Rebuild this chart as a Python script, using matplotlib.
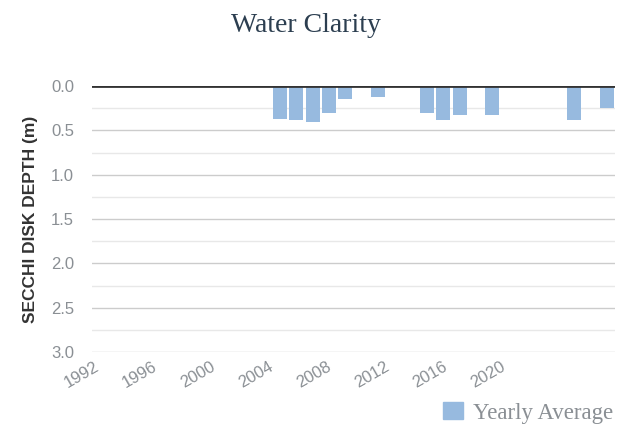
import matplotlib
matplotlib.use("Agg")
import matplotlib.pyplot as plt
import numpy as np

# === Data ===
years = list(range(1992, 2024))
measured_years = [2003, 2004, 2005, 2006, 2007, 2009, 2012, 2013, 2014, 2016, 2021, 2023]
secchi_depth = [0.37, 0.38, 0.405, 0.30, 0.145, 0.125, 0.30, 0.38, 0.33, 0.33, 0.38, 0.25]
tick_labels = ["1992", "1996", "2000", "2004", "2008", "2012", "2016", "2020"]

bar_color = "#97badf"
text_gray = "#8a8f94"

fig = plt.figure(figsize=(6.23, 4.24), dpi=100)
ax = fig.add_axes([92 / 623, 1 - 352 / 424, 523 / 623, 266 / 424])

# bars hang down from 0 (depth axis inverted)
x_idx = [years.index(y) for y in measured_years]
ax.bar(x_idx, secchi_depth, width=0.86, color=bar_color, zorder=2)

ax.set_xlim(-0.5, len(years) - 0.5)
ax.set_ylim(3.0, 0.0)

# grid: labelled lines every 0.5, lighter ones in between
for v in np.arange(0.25, 3.0, 0.5):
    ax.axhline(v, color="#e8e8e8", lw=1, zorder=1)
for v in np.arange(0.5, 3.01, 0.5):
    ax.axhline(v, color="#cccccc", lw=1, zorder=1)
ax.axhline(0, color="#333333", lw=2, zorder=3)

ax.set_yticks(np.arange(0, 3.01, 0.5))
ax.set_yticklabels([f"{v:.1f}" for v in np.arange(0, 3.01, 0.5)])
ax.tick_params(axis="y", length=0, pad=13, labelsize=12, labelcolor=text_gray)

tick_pos = np.linspace(-0.35, 24.5, len(tick_labels))
ax.set_xticks(tick_pos)
ax.set_xticklabels(tick_labels, rotation=30, ha="right", rotation_mode="anchor")
ax.tick_params(axis="x", length=0, pad=5, labelsize=12, labelcolor=text_gray)
for lab in ax.get_xticklabels() + ax.get_yticklabels():
    lab.set_family("Liberation Sans")

for s in ax.spines.values():
    s.set_visible(False)

ax.set_ylabel("SECCHI DISK DEPTH (m)", fontsize=12.5, fontweight="bold",
              color="#333333", family="Liberation Sans", labelpad=9)

fig.text(306 / 623, 1 - 32 / 424, "Water Clarity", ha="center", va="baseline",
         fontsize=20, color="#2c3e50", family="Liberation Serif")

handle = plt.Rectangle((0, 0), 1, 1, color=bar_color)
fig.legend([handle], ["Yearly Average"], loc="lower right",
           bbox_to_anchor=(627 / 623, -0.032), frameon=False,
           prop={"family": "Liberation Serif", "size": 16.5},
           labelcolor=text_gray, handlelength=0.85, handleheight=0.75,
           handletextpad=0.45, borderaxespad=0.2)

plt.savefig("out.png", dpi=100)
